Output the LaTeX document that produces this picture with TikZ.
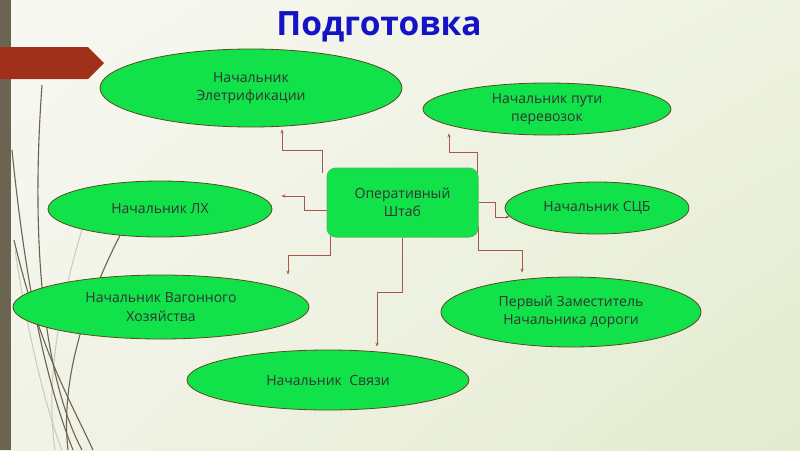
\documentclass[tikz,border=0pt]{standalone}
\usepackage{fontspec}
\setmainfont{Open Sans}
\usetikzlibrary{shapes.geometric,calc,arrows.meta,shadings}
\definecolor{bgA}{HTML}{F8F8F3}
\definecolor{bgB}{HTML}{EEF2E0}
\definecolor{bgC}{HTML}{F1F3E7}
\definecolor{bgD}{HTML}{E4EBCF}
\definecolor{barcol}{HTML}{6B6450}
\definecolor{bannercol}{HTML}{A0301A}
\definecolor{fillgreen}{HTML}{12E24A}
\definecolor{ellborder}{HTML}{5C4A1E}
\definecolor{rectborder}{HTML}{45C058}
\definecolor{conncol}{HTML}{A6584C}
\definecolor{txtcol}{HTML}{333333}
\definecolor{titlecol}{HTML}{1414C4}
\definecolor{grasslight}{HTML}{CACABA}
\tikzset{
  ell/.style={ellipse, draw=ellborder, line width=0.8pt, fill=fillgreen, inner sep=0pt,
    align=center, text=txtcol, font=\fontsize{14}{18.5}\selectfont},
  opbox/.style={rectangle, rounded corners=9pt, draw=rectborder, line width=1pt, fill=fillgreen,
    inner sep=0pt, align=center, text=txtcol, font=\fontsize{14}{18.5}\selectfont},
  conn/.style={draw=conncol, line width=0.8pt, -{Stealth[length=4pt,width=3.2pt]}},
  grass/.style={draw=barcol, line width=1.1pt},
  grasspale/.style={draw=grasslight, line width=1pt},
}
\begin{document}
\begin{tikzpicture}[x=1pt,y=-1pt]
\useasboundingbox (0,0) rectangle (800,450);
% background
\shade[upper left=bgA, upper right=bgB, lower left=bgC, lower right=bgD] (0,0) rectangle (800,450);
% grass decoration
\draw[grasspale] (85,220) .. controls (60,300) and (45,380) .. (55,450);
\draw[grasspale] (15,250) .. controls (30,350) and (50,420) .. (62,450);
\draw[grass] (42,85) .. controls (30,250) and (45,380) .. (82,450);
\draw[grass] (12,150) .. controls (25,280) and (45,380) .. (73,450);
\draw[grass] (128,220) .. controls (85,300) and (60,380) .. (68,450);
\draw[grass] (14,240) .. controls (40,350) and (70,400) .. (93,450);
% left bar
\fill[barcol] (0,0) rectangle (11,450);
% banner
\fill[bannercol] (0,47) -- (88,47) -- (104,63) -- (88,79) -- (0,79) -- cycle;
% title
\node[anchor=base, text=titlecol, font=\bfseries\fontsize{33.5}{38}\selectfont] (title) at (379,35) {Подготовка};
% nodes
\node[ell, minimum width=302pt, minimum height=78pt] (E) at (251,88) {Начальник\\Элетрификации};
\node[ell, minimum width=248pt, minimum height=52pt] (P) at (547,109) {Начальник пути\\перевозок};
\node[ell, minimum width=224pt, minimum height=56pt] (L) at (160,209) {Начальник ЛХ};
\node[ell, minimum width=184pt, minimum height=52pt] (S) at (597,208) {Начальник СЦБ};
\node[ell, minimum width=296pt, minimum height=64pt] (V) at (161,307) {Начальник Вагонного\\Хозяйства};
\node[ell, minimum width=260pt, minimum height=70pt] (F) at (571,312) {Первый Заместитель\\Начальника дороги};
\node[ell, minimum width=282pt, minimum height=60pt] (C) at (328,380) {Начальник\ \ Связи};
% central box geometry (drawn after connectors)
\path (402.5,202.5) node[opbox, minimum width=151pt, minimum height=69pt, draw=none, fill=none, text opacity=0] (op) {Оперативный\\Штаб};
% connectors
\draw[conn] ($(op.north west)+(-4,5)$) -- ++(0,-22) -| ($(E.south)+(31,2)$);
\draw[conn] ($(op.west)+(0,7.5)$) -- ++(-22,0) |- ($(L.east)+(9,-13)$);
\draw[conn] ($(op.north east)+(-1,5)$) -- ++(0,-20) -| ($(P.south)+(-98,-2)$);
\draw[conn] (op.east) -- ++(17,0) |- ($(S.west)+(5,9)$);
\draw[conn] ($(op.south west)+(4,-2)$) -- ++(0,20) -| ($(V.north)+(127,0)$);
\draw[conn] (op.south) -- ++(0,55) -| ($(C.north)+(49,-3)$);
\draw[conn] ($(op.south east)+(0,-12)$) -- ++(0,25) -| ($(F.north)+(-49,-4)$);
% central box
\node[opbox, minimum width=151pt, minimum height=69pt] (opbox) at (op.center) {Оперативный\\Штаб};
\end{tikzpicture}
\end{document}
